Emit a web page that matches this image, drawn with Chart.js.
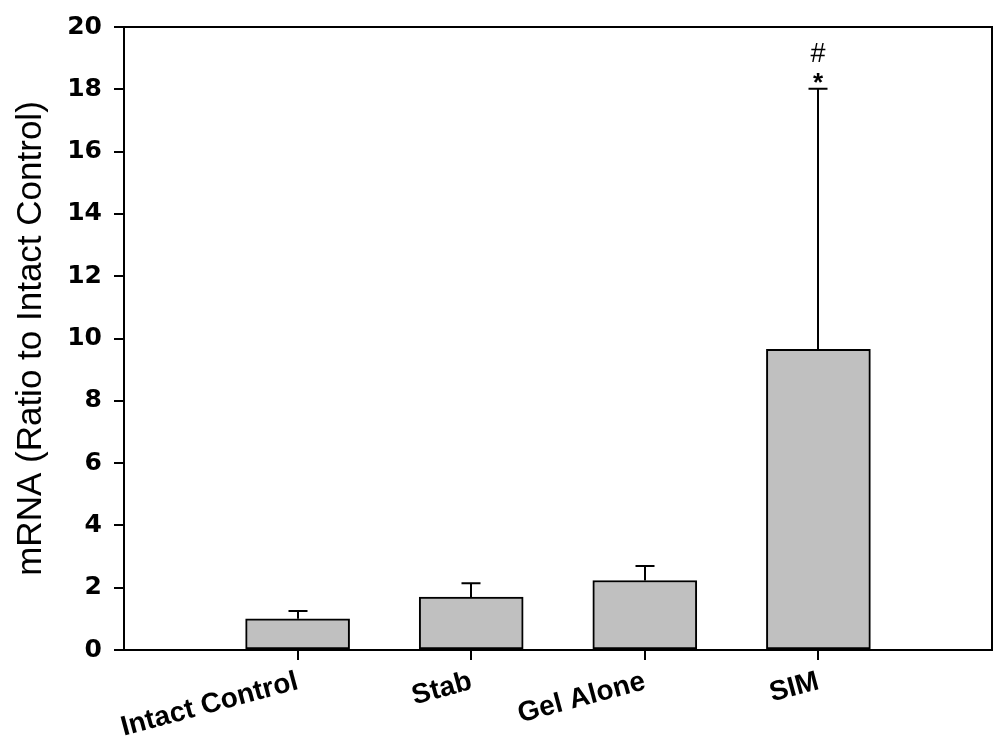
<!DOCTYPE html>
<html>
<head>
<meta charset="utf-8">
<script src="https://cdn.jsdelivr.net/npm/chart.js@4"></script>
<style>
  html, body { margin: 0; padding: 0; background: #fff; }
  #wrap { width: 1004px; height: 746px; position: relative; }
</style>
</head>
<body>
<div id="wrap"><canvas id="c" width="1004" height="746"></canvas></div>
<script>
// ---- data ----
const categories = ['Intact Control', 'Stab', 'Gel Alone', 'SIM'];
const categoryPositions = [1, 2, 3, 4];
const meanValues = [1.0, 1.70, 2.23, 9.65];
const errorUpper = [1.25, 2.14, 2.70, 18.02];
const markStar = ['', '', '', '*'];
const markHash = ['', '', '', '#'];
const yTickMin = 0, yTickMax = 20, yTickStep = 2;
const yTitle = 'mRNA (Ratio to Intact Control)';

const FONT = '"Liberation Sans", Arial, Helvetica, sans-serif';
const TICKFONT = '"DejaVu Sans", "Liberation Sans", Arial, sans-serif';

const errorBarPlugin = {
  id: 'errorBars',
  afterDatasetsDraw(chart) {
    const ctx = chart.ctx;
    const meta = chart.getDatasetMeta(0);
    const ys = chart.scales.y;
    ctx.save();
    ctx.strokeStyle = '#000';
    ctx.lineWidth = 2;
    meta.data.forEach((bar, i) => {
      const x = Math.round(bar.x);
      const yTop = ys.getPixelForValue(meanValues[i]);
      const yUp = ys.getPixelForValue(errorUpper[i]);
      ctx.beginPath();
      ctx.moveTo(x, yTop);
      ctx.lineTo(x, yUp);
      ctx.moveTo(x - 9.5, yUp);
      ctx.lineTo(x + 9.5, yUp);
      ctx.stroke();
      ctx.fillStyle = '#000';
      ctx.textAlign = 'center';
      ctx.textBaseline = 'middle';
      if (markStar[i]) {
        ctx.font = 'bold 26px ' + FONT;
        ctx.fillText(markStar[i], x, yUp - 5);
      }
      if (markHash[i]) {
        ctx.font = '27px ' + FONT;
        ctx.fillText(markHash[i], x, yUp - 34);
      }
    });
    ctx.restore();
  }
};

const frameBorderPlugin = {
  id: 'frameBorder',
  afterDraw(chart) {
    const a = chart.chartArea;
    const ctx = chart.ctx;
    ctx.save();
    ctx.strokeStyle = '#000';
    ctx.lineWidth = 2;
    ctx.beginPath();
    ctx.moveTo(a.left, a.top);
    ctx.lineTo(a.right, a.top);
    ctx.lineTo(a.right, a.bottom);
    ctx.stroke();
    ctx.restore();
  }
};

new Chart(document.getElementById('c'), {
  type: 'bar',
  data: {
    datasets: [{
      data: categoryPositions.map((p, i) => ({ x: p, y: meanValues[i] })),
      backgroundColor: '#c0c0c0',
      borderColor: '#000',
      borderWidth: 2,
      borderSkipped: false,
      barThickness: 104
    }]
  },
  options: {
    responsive: false,
    animation: false,
    layout: { padding: { left: 0, right: 12, top: 22, bottom: 0 } },
    plugins: { legend: { display: false }, tooltip: { enabled: false } },
    scales: {
      x: {
        type: 'linear',
        min: 0,
        max: 5,
        offset: false,
        afterBuildTicks(scale) {
          scale.ticks = categoryPositions.map(v => ({ value: v }));
        },
        afterFit(scale) { scale.height = 96; },
        ticks: {
          autoSkip: false,
          minRotation: 15,
          maxRotation: 15,
          padding: 5,
          color: '#000',
          font: { family: FONT, size: 28, weight: 'bold' },
          callback(v) {
            const i = categoryPositions.indexOf(v);
            return i >= 0 ? categories[i] : '';
          }
        },
        grid: {
          display: true,
          offset: false,
          drawOnChartArea: false,
          drawTicks: true,
          tickLength: 10,
          color: '#000',
          lineWidth: 2
        },
        border: { display: true, color: '#000', width: 2 }
      },
      y: {
        min: yTickMin,
        max: yTickMax,
        afterFit(scale) { scale.width = 124; },
        ticks: {
          stepSize: yTickStep,
          padding: 12,
          color: '#000',
          font: { family: TICKFONT, size: 25, weight: 'bold' }
        },
        grid: {
          display: true,
          drawOnChartArea: false,
          drawTicks: true,
          tickLength: 10,
          color: '#000',
          lineWidth: 2
        },
        border: { display: true, color: '#000', width: 2 },
        title: {
          display: true,
          text: yTitle,
          color: '#000',
          padding: { top: 10, bottom: 0 },
          font: { family: FONT, size: 35, weight: 'normal' }
        }
      }
    }
  },
  plugins: [errorBarPlugin, frameBorderPlugin]
});
</script>
</body>
</html>
